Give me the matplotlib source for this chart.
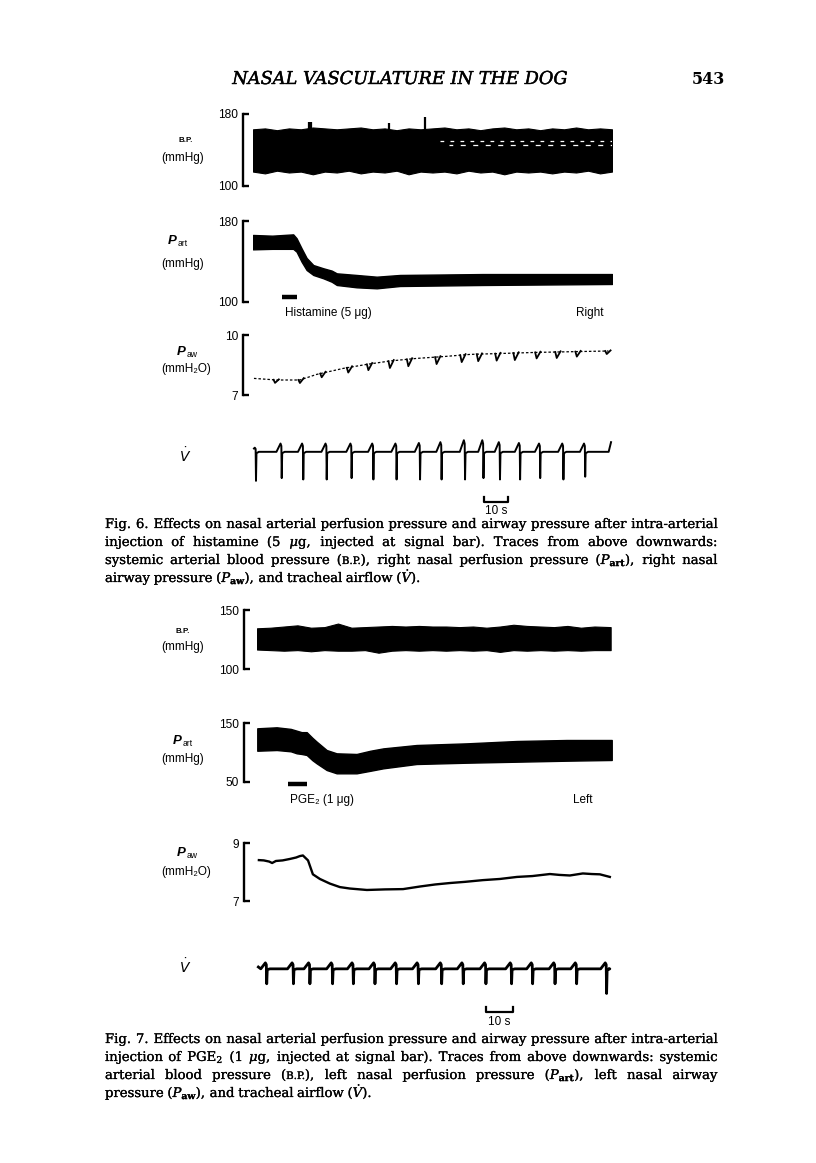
import matplotlib
matplotlib.use("Agg")
import matplotlib.pyplot as plt
import matplotlib.patheffects as pe
import numpy as np

# ------------------------------------------------------------------ data
# Fig. 6 (histamine) -- time in s
bp1_t = [0, 5, 10, 15, 20, 25, 30, 35, 40, 45, 50, 55, 60, 65, 70, 75, 80, 85, 90, 95,
         100, 105, 110, 115, 120, 125, 130, 135, 140, 145, 150]
bp1_upper = [163, 164, 162, 164, 163, 165, 164, 163, 164, 165, 163, 164, 162, 164, 163, 164,
             165, 163, 164, 162, 164, 165, 163, 164, 162, 164, 163, 165, 163, 164, 163]
bp1_lower = [116, 114, 117, 115, 116, 113, 116, 115, 117, 114, 116, 115, 117, 113, 116, 115,
             116, 114, 117, 115, 116, 113, 116, 115, 116, 114, 116, 115, 117, 114, 116]
bp1_spike_t = [23.3, 24.3, 57.0, 72.0]
bp1_spike_top = [171, 171, 170, 177]

part1_t = [0, 8, 16.8, 18.2, 20.3, 22.4, 25.2, 29.4, 32.9, 35.0, 43.3, 51.7, 61.4, 96, 150]
part1_top = [166.2, 165.5, 166.8, 163, 153, 143.5, 136.5, 133.3, 131, 128.3, 126.7, 125,
             126.7, 127.6, 127.6]
part1_bot = [152, 152.5, 152.5, 149.7, 139.8, 131.6, 126.7, 123.4, 120, 116.8, 114.5, 113.5,
             115.8, 116.8, 117.8]
hist_bar = [12.1, 18.4]

paw1_t = [0.4, 9.9, 19.6, 26.6, 37.7, 47.5, 57.2, 68.4, 79.5, 90.7, 104.6, 118.5, 135.3, 148.5]
paw1_v = [7.83, 7.75, 7.75, 8.03, 8.33, 8.53, 8.70, 8.83, 8.92, 9.03, 9.08, 9.13, 9.17, 9.20]
paw1_dip_t = [9.2, 19.6, 28.7, 39.8, 48.2, 57.2, 64.9, 76.7, 87.2, 94.1, 101.8, 109.4,
              118.5, 126.9, 135.3, 147.8]
paw1_dip = [0.15, 0.15, 0.2, 0.25, 0.3, 0.35, 0.35, 0.35, 0.35, 0.35, 0.35, 0.35, 0.3, 0.3,
            0.25, 0.15]

v1_breath_t = [1.25, 12.0, 21.0, 30.8, 41.2, 50.3, 60.0, 69.8, 78.8, 88.6, 96.3, 103.2,
               111.6, 120.0, 129.7, 138.8]
v1_depth = [-1.05, -0.95, -1.0, -1.0, -0.95, -1.0, -1.0, -1.0, -1.0, -1.0, -0.95, -1.0,
            -1.0, -0.95, -1.0, -0.9]
v1_peak = [0.15, 0.3, 0.3, 0.3, 0.3, 0.3, 0.3, 0.32, 0.35, 0.42, 0.42, 0.35, 0.32, 0.3,
           0.3, 0.3]

# Fig. 7 (PGE2)
bp2_t = [0, 5, 10, 15, 20, 25, 30, 35, 40, 45, 50, 55, 60, 65, 70, 75, 80, 85, 90, 95,
         100, 105, 110, 115, 120, 125, 131]
bp2_upper = [134.5, 135, 136, 137, 135, 135.5, 138.5, 135, 135.5, 136, 136.5, 136, 136.5,
             136, 136, 135.5, 136, 135, 136, 137.5, 136.5, 136, 135.5, 136.5, 135, 136, 135.5]
bp2_lower = [116.5, 116, 115.5, 116, 115, 116, 115.5, 115.5, 116, 113.8, 115.5, 116, 115.5,
             116, 115.5, 116, 115.5, 116, 114.5, 116, 115.5, 116, 115.5, 116, 115.5, 116, 116]

part2_t = [0.1, 7.3, 12.5, 14.7, 16.5, 18.4, 20.5, 22.1, 25.8, 29.5, 36.9, 42, 46.8, 59.1,
           77.7, 96.2, 114.7, 131.4]
part2_top = [141, 142.7, 140, 137, 134.5, 134.5, 125, 118.4, 104.2, 98.6, 97.5, 103, 107,
             112.7, 115.5, 119.5, 121.2, 121.2]
part2_bot = [103, 104.2, 102, 98.6, 97.5, 95.8, 87, 81.6, 70.3, 64.7, 64.7, 69, 73.2, 80.5,
             82.7, 84.4, 86.1, 87.3]
pge_bar = [11.6, 18.4]

paw2_t = [0.7, 2.5, 4.5, 5.6, 7.0, 9.5, 12.2, 14.5, 15.9, 17.0, 18.9, 20.7, 23.3, 27.0, 30.7,
          34.4, 40.7, 47.4, 54.1, 60.4, 66, 71.5, 77, 83.7, 90, 96.3, 102, 108.5, 112, 115.9,
          120.7, 124, 127, 130.7]
paw2_v = [8.41, 8.40, 8.36, 8.31, 8.38, 8.40, 8.45, 8.50, 8.55, 8.57, 8.40, 7.92, 7.76, 7.60,
          7.48, 7.43, 7.38, 7.40, 7.41, 7.50, 7.57, 7.62, 7.66, 7.72, 7.76, 7.83, 7.86, 7.93,
          7.90, 7.88, 7.95, 7.93, 7.92, 7.83]

v2_breath_t = [3.6, 13.5, 19.6, 28.0, 35.7, 43.7, 51.7, 59.8, 68.4, 76.4, 84.8, 94.3,
               102.1, 110.4, 118.4, 129.5]
v2_depth = [-0.97] * 15 + [-1.6]
v2_peak = [0.39] * 16

scale_s = 10

# captions
cap6 = ["Fig. 6. Effects on nasal arterial perfusion pressure and airway pressure after intra-arterial",
        r"injection of histamine (5 $\mu$g, injected at signal bar). Traces from above downwards:",
        r"systemic arterial blood pressure (B.P.), right nasal perfusion pressure ($P_{\mathbf{art}}$), right nasal",
        r"airway pressure ($P_{\mathbf{aw}}$), and tracheal airflow ($\dot{V}$)."]
cap7 = ["Fig. 7. Effects on nasal arterial perfusion pressure and airway pressure after intra-arterial",
        r"injection of PGE$_{2}$ (1 $\mu$g, injected at signal bar). Traces from above downwards: systemic",
        r"arterial blood pressure (B.P.), left nasal perfusion pressure ($P_{\mathbf{art}}$), left nasal airway",
        r"pressure ($P_{\mathbf{aw}}$), and tracheal airflow ($\dot{V}$)."]

# ------------------------------------------------------------------ layout helpers
W, H = 816, 1163
fig = plt.figure(figsize=(W / 100, H / 100), dpi=100)
fig.patch.set_facecolor("white")
renderer = fig.canvas.get_renderer()
SANS = ["Liberation Sans", "DejaVu Sans"]
SERIF = ["DejaVu Serif"]
BOLDEN_HDR = [pe.withStroke(linewidth=0.3, foreground="black")]
BOLDEN_CAP = [pe.withStroke(linewidth=0.18, foreground="black")]


def fp(x, y):
    return (x / W, 1 - y / H)


def add_ax(x0, x1, y0, y1):
    return fig.add_axes([x0 / W, 1 - y1 / H, (x1 - x0) / W, (y1 - y0) / H])


def style_ax(ax, xlim, ylim, bracket=None, offset_px=10):
    ax.set_xlim(*xlim)
    ax.set_ylim(*ylim)
    ax.patch.set_visible(False)
    for s in ["top", "right", "bottom"]:
        ax.spines[s].set_visible(False)
    ax.set_xticks([])
    if bracket is None:
        ax.spines["left"].set_visible(False)
        ax.set_yticks([])
        return
    lo, hi = bracket
    sp = ax.spines["left"]
    sp.set_position(("outward", offset_px * 0.72))
    sp.set_bounds(lo, hi)
    sp.set_linewidth(1.7)
    ax.set_yticks([lo, hi])
    ax.set_yticklabels([str(lo), str(hi)], fontfamily=SANS, fontsize=8.6)
    ax.tick_params(axis="y", direction="in", length=4.0, width=1.7, pad=3.5)


def width_of(t):
    return t.get_window_extent(renderer).width


def txt(x, y, s, **kw):
    kw.setdefault("family", SANS)
    return fig.text(*fp(x, y), s, **kw)


def p_label(x_left, y, sub):
    t = txt(x_left, y, "P", fontsize=9.5, fontstyle="italic", fontweight="bold",
            ha="left", va="baseline")
    w = width_of(t)
    txt(x_left + w + 0.5, y + 2.5, sub, fontsize=6.2, ha="left", va="baseline")


def breath_wave(times, depths, peaks, t0, t1, hook_end=None):
    xs, ys = [t0], [0.12]
    for tb, d, p in zip(times, depths, peaks):
        for x, y in [(tb - 2.2, 0.0), (tb - 0.5, p), (tb - 0.15, p * 0.7), (tb, d),
                     (tb + 0.2, -0.05), (tb + 1.2, 0.0)]:
            if x > xs[-1]:
                xs.append(x)
                ys.append(y)
    if hook_end is not None:
        xs += [t1 - 1.0, t1]
        ys += [0.0, hook_end]
    else:
        xs.append(t1)
        ys.append(ys[-1])
    return xs, ys


# ------------------------------------------------------------------ header
hdr = txt(400, 84, "NASAL VASCULATURE IN THE DOG", family=SERIF, fontstyle="italic",
          fontsize=10, ha="center", va="baseline", path_effects=BOLDEN_HDR)
hdr.set_fontsize(10 * 335 / width_of(hdr))
txt(708, 84, "543", family=SERIF, fontweight="bold", fontsize=11.5, ha="center", va="baseline")

# ------------------------------------------------------------------ Fig. 6 traces
X6 = (253, 612)
XL6 = (0, 150)

ax = add_ax(*X6, 114, 186)
style_ax(ax, XL6, (100, 180), (100, 180), 10)
ax.fill_between(bp1_t, bp1_lower, bp1_upper, color="black", lw=0.8, edgecolor="black")
ax.vlines(bp1_spike_t, [u - 2 for u in [164, 164, 163, 164]], bp1_spike_top, color="black", lw=1.6)
ax.plot([78, 150], [150.5, 150.5], color="white", lw=0.9, ls=(0, (3, 5)))
ax.plot([82, 150], [145.5, 145.5], color="white", lw=0.9, ls=(1, (4, 6)))
txt(186, 141, "B.P.", fontsize=5.8, fontweight="bold", ha="center", va="center")
txt(183, 158, "(mmHg)", fontsize=8.5, ha="center", va="center")

ax = add_ax(*X6, 221, 302)
style_ax(ax, XL6, (100, 180), (100, 180), 10)
ax.fill_between(part1_t, part1_bot, part1_top, color="black", lw=1.0, edgecolor="black")
ax.plot(hist_bar, [105, 105], color="black", lw=3.2, solid_capstyle="butt", clip_on=False)
ax.text(13.4, 89.5, "Histamine (5 \u03bcg)", family=SANS, fontsize=8.5, ha="left",
        va="center", clip_on=False)
ax.text(146.3, 89.5, "Right", family=SANS, fontsize=8.5, ha="right", va="center", clip_on=False)
p_label(168, 244, "art")
txt(183, 264, "(mmHg)", fontsize=8.5, ha="center", va="center")

ax = add_ax(*X6, 335, 395)
style_ax(ax, XL6, (7, 10), (7, 10), 10)
ax.set_yticklabels(["7", "10"])
ax.plot(paw1_t, paw1_v, color="black", lw=0.9, ls=(0, (2.0, 1.6)))
for td, d in zip(paw1_dip_t, paw1_dip):
    b0 = np.interp(td - 0.6, paw1_t, paw1_v)
    b1 = np.interp(td + 1.6, paw1_t, paw1_v)
    ax.plot([td - 0.6, td, td + 1.6], [b0, np.interp(td, paw1_t, paw1_v) - d, b1 + 0.03],
            color="black", lw=1.3)
p_label(177, 355, "aw")
txt(186, 369, "(mmH\u2082O)", fontsize=8.5, ha="center", va="center")

ax = add_ax(*X6, 438, 485)
style_ax(ax, XL6, (-1.2, 0.5))
vx, vy = breath_wave(v1_breath_t, v1_depth, v1_peak, 0.4, 149.6, hook_end=0.35)
ax.plot(vx, vy, color="black", lw=1.4, clip_on=False)
ax.plot([96.5, 96.5, 96.5 + scale_s, 96.5 + scale_s], [-1.62, -1.80, -1.80, -1.62],
        color="black", lw=1.6, clip_on=False)
ax.text(96.5 + scale_s / 2, -2.14, "10 s", family=SANS, fontsize=8.5, ha="center",
        va="center", clip_on=False)
fig.text(*fp(185, 456), r"$\dot{V}$", fontsize=10, math_fontfamily="dejavusans",
         ha="center", va="center")

# ------------------------------------------------------------------ Fig. 7 traces
X7 = (257, 612)
XL7 = (0, 131.5)

ax = add_ax(*X7, 610, 669)
style_ax(ax, XL7, (100, 150), (100, 150), 13)
ax.fill_between(bp2_t, bp2_lower, bp2_upper, color="black", lw=0.8, edgecolor="black")
txt(183, 631, "B.P.", fontsize=5.8, fontweight="bold", ha="center", va="center")
txt(183, 647, "(mmHg)", fontsize=8.5, ha="center", va="center")

ax = add_ax(*X7, 723, 782)
style_ax(ax, XL7, (50, 150), (50, 150), 13)
ax.set_yticklabels(["50", "150"])
ax.fill_between(part2_t, part2_bot, part2_top, color="black", lw=1.0, edgecolor="black")
ax.plot(pge_bar, [46.6, 46.6], color="black", lw=3.2, solid_capstyle="butt", clip_on=False)
ax.text(12.2, 19.5, "PGE\u2082 (1 \u03bcg)", family=SANS, fontsize=8.5, ha="left",
        va="center", clip_on=False)
ax.text(124.1, 19.5, "Left", family=SANS, fontsize=8.5, ha="right", va="center", clip_on=False)
p_label(173, 744, "art")
txt(183, 759, "(mmHg)", fontsize=8.5, ha="center", va="center")

ax = add_ax(*X7, 843, 901)
style_ax(ax, XL7, (7, 9), (7, 9), 13)
ax.set_yticklabels(["7", "9"])
ax.plot(paw2_t, paw2_v, color="black", lw=1.7, solid_joinstyle="round")
p_label(177, 856, "aw")
txt(186, 872, "(mmH\u2082O)", fontsize=8.5, ha="center", va="center")

ax = add_ax(*X7, 955, 995)
style_ax(ax, XL7, (-1.7, 0.9))
vx, vy = breath_wave(v2_breath_t, v2_depth, v2_peak, 0.5, 130.6)
ax.plot(vx, vy, color="black", lw=2.0, clip_on=False)
ax.plot([84.8, 84.8, 84.8 + scale_s, 84.8 + scale_s], [-2.48, -2.79, -2.79, -2.48],
        color="black", lw=1.6, clip_on=False)
ax.text(84.8 + scale_s / 2, -3.44, "10 s", family=SANS, fontsize=8.5, ha="center",
        va="center", clip_on=False)
fig.text(*fp(185, 967), r"$\dot{V}$", fontsize=10, math_fontfamily="dejavusans",
         ha="center", va="center")

# ------------------------------------------------------------------ captions (justified)
X0, X1 = 105, 717


def seg_word(w):
    if "B.P." in w:
        a, b = w.split("B.P.")
        return [(a, 1.0), ("B.P.", 0.78), (b, 1.0)]
    return [(w, 1.0)]


probe = fig.text(0, 0, cap6[0], family=SERIF, fontsize=10)
CAP_SIZE = 10 * (X1 - X0) / width_of(probe) * 0.995
probe.remove()
sp_probe = fig.text(0, 0, "n n", family=SERIF, fontsize=CAP_SIZE)
sp2 = fig.text(0, 0, "nn", family=SERIF, fontsize=CAP_SIZE)
SPACE = width_of(sp_probe) - width_of(sp2)
sp_probe.remove()
sp2.remove()


def caption_line(y, line, justify):
    items = []
    for w in line.split(" "):
        objs = []
        tot = 0
        for s, sc in seg_word(w):
            if not s:
                continue
            t = fig.text(0, 0, s, family=SERIF, fontsize=CAP_SIZE * sc,
                         math_fontfamily="dejavuserif", ha="left", va="baseline",
                         path_effects=BOLDEN_CAP)
            wd = width_of(t)
            objs.append((t, wd))
            tot += wd
        items.append((objs, tot))
    total = sum(i[1] for i in items)
    gap = (X1 - X0 - total) / (len(items) - 1) if justify else SPACE
    x = X0
    for objs, tot in items:
        xx = x
        for t, wd in objs:
            t.set_position(fp(xx, y))
            xx += wd
        x += tot + gap


for i, line in enumerate(cap6):
    caption_line(528 + 18 * i, line, i < 3)
for i, line in enumerate(cap7):
    caption_line(1043 + 18 * i, line, i < 3)

fig.savefig("out.png", dpi=100, facecolor="white")
